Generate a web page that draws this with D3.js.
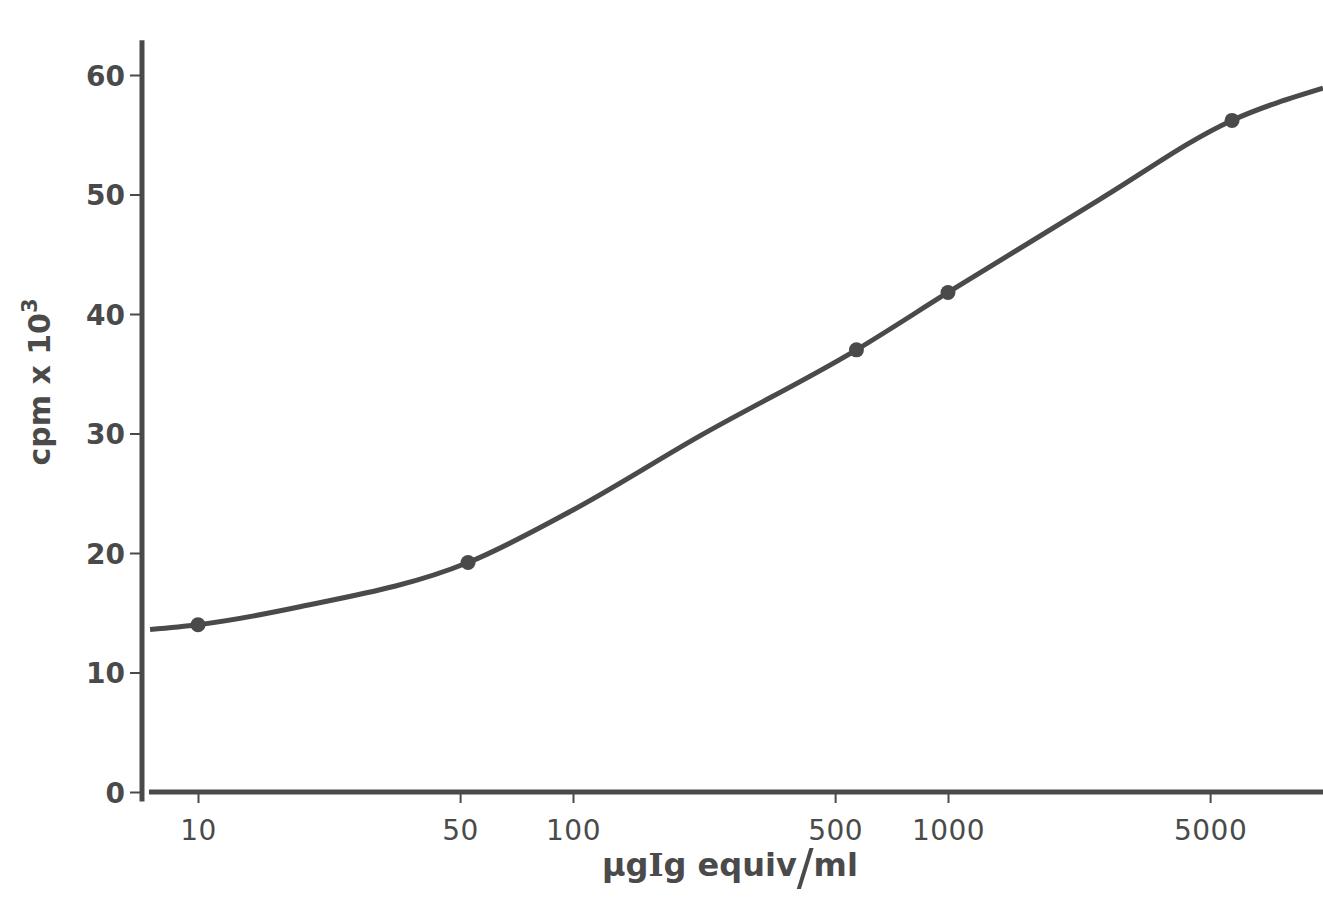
<!DOCTYPE html>
<html>
<head>
<meta charset="utf-8">
<script src="https://cdn.jsdelivr.net/npm/d3@7"></script>
<style>
body{margin:0;background:#fff}
svg{display:block}
.tick text{fill:#4a4a4a}
</style>
</head>
<body>
<svg id="chart"></svg>
<script>
// measured points (ug Ig equiv/ml, cpm x 10^3)
var doses=[10,52.5,570,1000,5720]
var cpm=[14.0,19.2,37.0,41.8,56.2]

// fitted curve
var curveX=[7.45,10,18.7,52.5,100,218,570,1000,2540,5720,10000]
var curveY=[13.6,14.0,15.5,19.2,23.6,29.8,37.0,41.8,49.6,56.2,58.9]

var xTicks=[10,50,100,500,1000,5000]
var yTicks=[0,10,20,30,40,50,60]

var width=1323
var height=921
var ink="#4a4a4a"

var svg=d3.select("#chart")
    .attr("width",width)
    .attr("height",height)

var x=d3.scaleLog().domain([10,1000]).range([198,948])
var y=d3.scaleLinear().domain([0,60]).range([792,75])

// y axis
var yAxis=d3.axisLeft(y)
    .tickValues(yTicks)
    .tickSize(12)
    .tickPadding(5)
    .tickFormat(d3.format("d"))

var gy=svg.append("g")
    .attr("transform","translate(142,0)")
    .call(yAxis)
gy.select(".domain").remove()
gy.selectAll(".tick line").attr("stroke",ink).attr("stroke-width",2)
gy.selectAll(".tick text")
    .attr("font-family","DejaVu Sans")
    .attr("font-size","28px")
    .attr("font-weight","bold")
    .attr("dy","0.36em")

svg.append("line")
    .attr("x1",142).attr("x2",142)
    .attr("y1",y(62.9))
    .attr("y2",y(-0.8))
    .attr("stroke",ink)
    .attr("stroke-width",5)

// x axis
var xAxis=d3.axisBottom(x)
    .tickValues(xTicks)
    .tickSize(11)
    .tickPadding(17)
    .tickFormat(d3.format("d"))

var gx=svg.append("g")
    .attr("transform","translate(0,"+y(0)+")")
    .call(xAxis)
gx.select(".domain").remove()
gx.selectAll(".tick line").attr("stroke",ink).attr("stroke-width",2)
gx.selectAll(".tick text")
    .attr("font-family","DejaVu Sans")
    .attr("font-size","28px")
    .attr("letter-spacing","0.5px")

svg.append("line")
    .attr("x1",x(7.4))
    .attr("x2",x(10000))
    .attr("y1",y(0)).attr("y2",y(0))
    .attr("stroke",ink)
    .attr("stroke-width",5)

// curve
var pts=curveX.map(function(d,i){return [d,curveY[i]]})
var line=d3.line()
    .x(function(d){return x(d[0])})
    .y(function(d){return y(d[1])})
    .curve(d3.curveMonotoneX)

svg.append("path")
    .datum(pts)
    .attr("d",line)
    .attr("fill","none")
    .attr("stroke",ink)
    .attr("stroke-width",5)

svg.selectAll("circle.pt")
    .data(doses)
    .enter()
    .append("circle")
    .attr("class","pt")
    .attr("cx",function(d){return x(d)})
    .attr("cy",function(d,i){return y(cpm[i])})
    .attr("r",7.5)
    .attr("fill",ink)

// axis titles
svg.append("text")
    .attr("transform","translate(50,382) rotate(-90)")
    .attr("text-anchor","middle")
    .attr("font-family","DejaVu Sans")
    .attr("font-size","30px")
    .attr("font-weight","bold")
    .attr("fill",ink)
    .text("cpm x 10")
    .append("tspan")
    .attr("dy","-0.6em")
    .attr("font-size","21px")
    .text("3")

var xt=svg.append("text")
    .attr("x",730)
    .attr("y",876)
    .attr("text-anchor","middle")
    .attr("font-family","DejaVu Sans")
    .attr("font-size","32px")
    .attr("font-weight","bold")
    .attr("fill",ink)
xt.append("tspan").text("\u03bcg")
xt.append("tspan").attr("font-family","DejaVu Serif").text("I")
xt.append("tspan").text("g equiv")
xt.append("tspan").attr("font-weight","normal").attr("font-size","50px").attr("dy","8").text("/")
xt.append("tspan").attr("dy","-8").text("ml")
</script>
</body>
</html>
